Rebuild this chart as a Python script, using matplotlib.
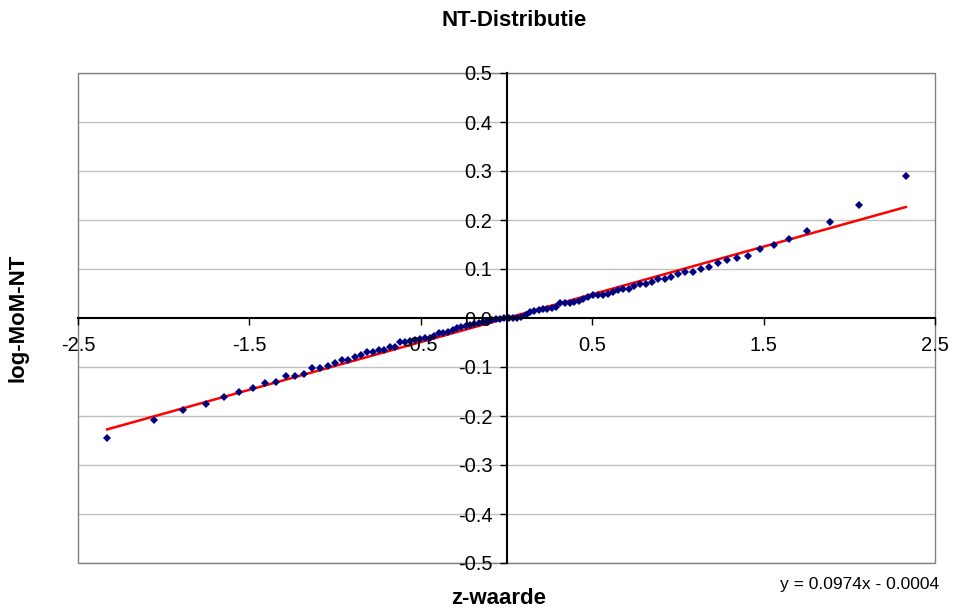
import matplotlib
matplotlib.use("Agg")
import matplotlib.pyplot as plt
from matplotlib.patches import Rectangle
import numpy as np

plt.rcParams['font.family'] = ['Liberation Sans', 'DejaVu Sans']

title = "NT-Distributie"
x_label = "z-waarde"
y_label = "log-MoM-NT"
equation = "y = 0.0974x - 0.0004"
slope = 0.0974
intercept = -0.0004

z_left = [-2.330, -2.058, -1.885, -1.755, -1.650, -1.560, -1.481, -1.410, -1.346, -1.287,
          -1.232, -1.180, -1.132, -1.086, -1.043, -1.001, -0.961, -0.922, -0.885, -0.849,
          -0.814, -0.780, -0.746, -0.714, -0.682, -0.651, -0.621, -0.591, -0.562, -0.533,
          -0.504, -0.476, -0.449, -0.421, -0.394, -0.368, -0.341, -0.315, -0.289, -0.264,
          -0.238, -0.213, -0.187, -0.162, -0.137, -0.112, -0.087, -0.062, -0.037, -0.012]
z_right = [0.012, 0.037, 0.062, 0.087, 0.112, 0.137, 0.162, 0.187, 0.213, 0.238,
           0.264, 0.289, 0.315, 0.341, 0.368, 0.394, 0.421, 0.449, 0.476, 0.504,
           0.533, 0.562, 0.591, 0.621, 0.651, 0.682, 0.714, 0.746, 0.780, 0.814,
           0.849, 0.885, 0.922, 0.961, 1.001, 1.043, 1.086, 1.132, 1.180, 1.232,
           1.287, 1.346, 1.410, 1.481, 1.560, 1.650, 1.755, 1.885, 2.058, 2.330]

log_mom_left = [-0.244, -0.209, -0.188, -0.175, -0.162, -0.150, -0.143, -0.132, -0.131, -0.118,
                -0.118, -0.114, -0.102, -0.102, -0.098, -0.091, -0.086, -0.085, -0.080, -0.075,
                -0.070, -0.070, -0.065, -0.065, -0.060, -0.060, -0.049, -0.049, -0.047, -0.045,
                -0.043, -0.041, -0.040, -0.037, -0.031, -0.030, -0.028, -0.024, -0.021, -0.019,
                -0.017, -0.014, -0.012, -0.010, -0.008, -0.006, -0.004, -0.003, -0.002, -0.001]
log_mom_right = [-0.001, 0.000, 0.001, 0.003, 0.007, 0.012, 0.015, 0.017, 0.018, 0.018,
                 0.021, 0.022, 0.031, 0.031, 0.031, 0.033, 0.034, 0.038, 0.043, 0.046,
                 0.046, 0.047, 0.050, 0.054, 0.057, 0.059, 0.060, 0.065, 0.069, 0.069,
                 0.073, 0.079, 0.080, 0.083, 0.089, 0.093, 0.094, 0.100, 0.105, 0.112,
                 0.118, 0.122, 0.127, 0.141, 0.150, 0.161, 0.177, 0.195, 0.231, 0.290]

x_ticks = [-2.5, -1.5, -0.5, 0.5, 1.5, 2.5]
x_tick_labels = ["-2.5", "-1.5", "-0.5", "0.5", "1.5", "2.5"]
y_ticks = [0.5, 0.4, 0.3, 0.2, 0.1, 0.0, -0.1, -0.2, -0.3, -0.4, -0.5]
y_tick_labels = ["0.5", "0.4", "0.3", "0.2", "0.1", "0.0", "-0.1", "-0.2", "-0.3", "-0.4", "-0.5"]

z = np.array(z_left + z_right)
y = np.array(log_mom_left + log_mom_right)

fig = plt.figure(figsize=(9.55, 6.09), dpi=100)
ax = fig.add_axes([78/955, 46/609, 857/955, 490/609])

ax.set_xlim(-2.5, 2.5)
ax.set_ylim(-0.5, 0.5)

for yt in y_ticks:
    if yt != 0.0:
        ax.axhline(yt, color='#c0c0c0', lw=1.0, zorder=0)

ax.add_patch(Rectangle((0, 0), 1, 1, transform=ax.transAxes, fill=False,
                       edgecolor='#808080', lw=1.0, zorder=0.5, clip_on=False))

for s in ['top', 'right']:
    ax.spines[s].set_visible(False)
ax.spines['left'].set_position(('data', 0))
ax.spines['bottom'].set_position(('data', 0))
for s in ['left', 'bottom']:
    ax.spines[s].set_color('black')
    ax.spines[s].set_linewidth(1.5)
    ax.spines[s].set_zorder(2.6)

ax.set_axisbelow(False)
ax.set_xticks(x_ticks)
ax.set_xticklabels(x_tick_labels)
ax.set_yticks(y_ticks)
ax.set_yticklabels(y_tick_labels)
ax.tick_params(axis='x', direction='out', length=5, width=1.0, labelsize=14.5, pad=8)
ax.tick_params(axis='y', direction='out', length=5, width=1.0, labelsize=14.5, pad=5)

tline = np.array([z.min(), z.max()])
ax.plot(tline, slope * tline + intercept, color='#ff0000', lw=1.8, zorder=1.5)
ax.plot(z, y, linestyle='none', marker='D', markersize=3.6, color='#000080',
        markeredgewidth=0, zorder=2)

fig.text(514/955, 1 - 20/609, title, ha='center', va='center', fontsize=16, fontweight='bold')
fig.text(499/955, 1 - 598/609, x_label, ha='center', va='center', fontsize=16, fontweight='bold')
fig.text(18/955, 1 - 318/609, y_label, ha='center', va='center', fontsize=16,
         fontweight='bold', rotation=90)
fig.text(939/955, 1 - 584/609, equation, ha='right', va='center', fontsize=12.5)

fig.savefig("out.png", dpi=100)
